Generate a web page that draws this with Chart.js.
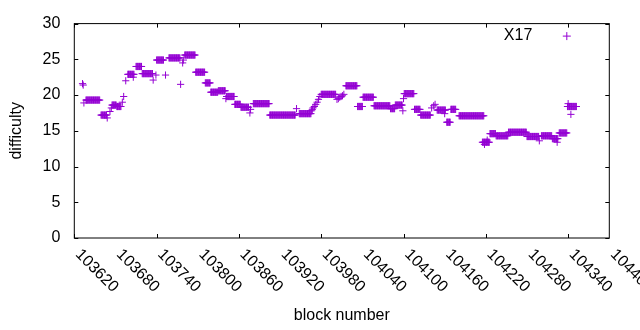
<!DOCTYPE html>
<html>
<head>
<meta charset="utf-8">
<script src="https://cdn.jsdelivr.net/npm/chart.js@4"></script>
<style>
  body { margin: 0; background: #fff; }
</style>
</head>
<body>
<canvas id="chart" width="640" height="330"></canvas>
<script>
// runs of blocks with the same difficulty (first block, last block, value)
const runFirst = [
  103632, 103633, 103634, 103637, 103659, 103668, 103672, 103674, 103675, 103682,
  103690, 103692, 103695, 103698, 103706, 103710, 103719, 103735, 103739, 103740,
  103753, 103758, 103775, 103778, 103779, 103781, 103797, 103811, 103819, 103830,
  103841, 103842, 103854, 103863, 103876, 103877, 103881, 103905, 103944, 103948,
  103966, 103967, 103968, 103970, 103972, 103974, 103976, 103978, 103980, 104003,
  104005, 104007, 104009, 104011, 104013, 104016, 104033, 104041, 104057, 104081,
  104088, 104099, 104100, 104101, 104116, 104125, 104141, 104144, 104146, 104149,
  104160, 104163, 104169, 104181, 104215, 104218, 104222, 104226, 104235, 104253,
  104280, 104298, 104301, 104317, 104324, 104327, 104339, 104340, 104344
];
const runLast = [
  103632, 103633, 103634, 103657, 103667, 103668, 103672, 103674, 103681, 103688,
  103690, 103692, 103695, 103707, 103706, 103718, 103734, 103735, 103739, 103750,
  103753, 103774, 103775, 103778, 103779, 103796, 103810, 103818, 103829, 103840,
  103841, 103853, 103862, 103874, 103876, 103877, 103904, 103942, 103944, 103965,
  103966, 103967, 103968, 103970, 103972, 103974, 103976, 103978, 104001, 104003,
  104005, 104007, 104009, 104011, 104013, 104032, 104040, 104056, 104080, 104087,
  104098, 104099, 104100, 104115, 104124, 104139, 104141, 104144, 104146, 104161,
  104160, 104168, 104176, 104217, 104225, 104218, 104222, 104234, 104252, 104279,
  104297, 104298, 104316, 104325, 104324, 104338, 104352, 104340, 104344
];
const runDiff = [
  21.6, 21.4, 18.9, 19.3, 17.2, 16.8, 17.7, 18.2, 18.6, 18.4,
  19.0, 19.8, 22.0, 22.9, 22.5, 24.0, 23.0, 22.1, 22.8, 24.9,
  22.8, 25.2, 21.5, 24.5, 24.9, 25.6, 23.2, 21.7, 20.4, 20.6,
  19.5, 19.8, 18.7, 18.3, 17.5, 18.0, 18.8, 17.2, 18.1, 17.4,
  17.8, 18.0, 18.2, 18.4, 18.7, 19.0, 19.4, 19.8, 20.1, 19.4,
  19.5, 19.7, 19.8, 19.9, 20.1, 21.3, 18.4, 19.7, 18.5, 18.1,
  18.6, 17.8, 19.5, 20.2, 18.0, 17.2, 18.2, 18.5, 18.7, 17.9,
  17.4, 16.2, 18.0, 17.1, 13.4, 13.1, 13.7, 14.6, 14.3, 14.8,
  14.2, 13.6, 14.3, 13.9, 13.4, 14.7, 18.4, 18.8, 17.3
];
const xTickLabels = [
  "103620", "103680", "103740", "103800", "103860", "103920", "103980",
  "104040", "104100", "104160", "104220", "104280", "104340", "104400"
];
const seriesName = "X17";
const purple = "#9400d3";

const points = [];
runFirst.forEach((first, i) => {
  for (let b = first; b <= runLast[i]; b++) {
    points.push({ x: b, y: runDiff[i] });
  }
});

Chart.defaults.font.family = "'Liberation Sans', Arial, sans-serif";
Chart.defaults.font.size = 16;
Chart.defaults.color = "#000";

// gnuplot style frame: box, inward ticks, rotated x labels, key inside
const frame = {
  id: "frame",
  afterDraw(chart) {
    const ctx = chart.ctx;
    const a = chart.chartArea;
    const xs = chart.scales.x;
    const ys = chart.scales.y;
    const tl = 4;
    ctx.save();
    ctx.strokeStyle = "#000";
    ctx.lineWidth = 1;
    ctx.strokeRect(a.left, a.top, a.right - a.left, a.bottom - a.top);
    ctx.beginPath();
    xs.ticks.forEach(t => {
      const px = Math.round(xs.getPixelForValue(t.value)) + 0.5;
      ctx.moveTo(px, a.bottom); ctx.lineTo(px, a.bottom - tl);
      ctx.moveTo(px, a.top); ctx.lineTo(px, a.top + tl);
    });
    ys.ticks.forEach(t => {
      const py = Math.round(ys.getPixelForValue(t.value)) + 0.5;
      ctx.moveTo(a.left, py); ctx.lineTo(a.left + tl, py);
      ctx.moveTo(a.right, py); ctx.lineTo(a.right - tl, py);
    });
    ctx.stroke();

    ctx.fillStyle = "#000";
    ctx.font = "16px 'Liberation Sans', Arial, sans-serif";
    ctx.textAlign = "left";
    ctx.textBaseline = "middle";
    xTickLabels.forEach(lab => {
      const px = xs.getPixelForValue(Number(lab));
      ctx.save();
      ctx.translate(px + 3.5, a.bottom + 14);
      ctx.rotate(Math.PI / 4);
      ctx.fillText(lab, 0, 0);
      ctx.restore();
    });

    // key
    ctx.textAlign = "right";
    ctx.fillText(seriesName, a.right - 77, a.top + 12);
    ctx.strokeStyle = purple;
    ctx.beginPath();
    const kx = a.right - 42.5, ky = a.top + 12.5;
    ctx.moveTo(kx - 4, ky); ctx.lineTo(kx + 4, ky);
    ctx.moveTo(kx, ky - 4); ctx.lineTo(kx, ky + 4);
    ctx.stroke();
    ctx.restore();
  }
};

new Chart(document.getElementById("chart"), {
  type: "scatter",
  data: {
    datasets: [{
      label: seriesName,
      data: points,
      pointStyle: "cross",
      pointRadius: 3.6,
      pointBorderWidth: 1,
      borderColor: purple,
      backgroundColor: purple
    }]
  },
  options: {
    responsive: false,
    animation: false,
    layout: { padding: { left: 0, right: 30.7, top: 19.3, bottom: 0 } },
    plugins: {
      legend: { display: false },
      tooltip: { enabled: false }
    },
    scales: {
      x: {
        type: "linear",
        min: 103620,
        max: 104400,
        afterFit: s => { s.height = 92; },
        grid: { display: false, drawTicks: false },
        border: { display: false },
        ticks: { stepSize: 60, color: "rgba(0,0,0,0)", maxRotation: 0, callback: v => String(v) },
        title: { display: true, text: "block number", padding: 5 }
      },
      y: {
        min: 0,
        max: 30,
        afterFit: s => { s.width = 74.3; },
        grid: { display: false, drawTicks: false },
        border: { display: false },
        ticks: { stepSize: 5, padding: 14 },
        title: { display: true, text: "difficulty", padding: 7 }
      }
    }
  },
  plugins: [frame]
});
</script>
</body>
</html>
